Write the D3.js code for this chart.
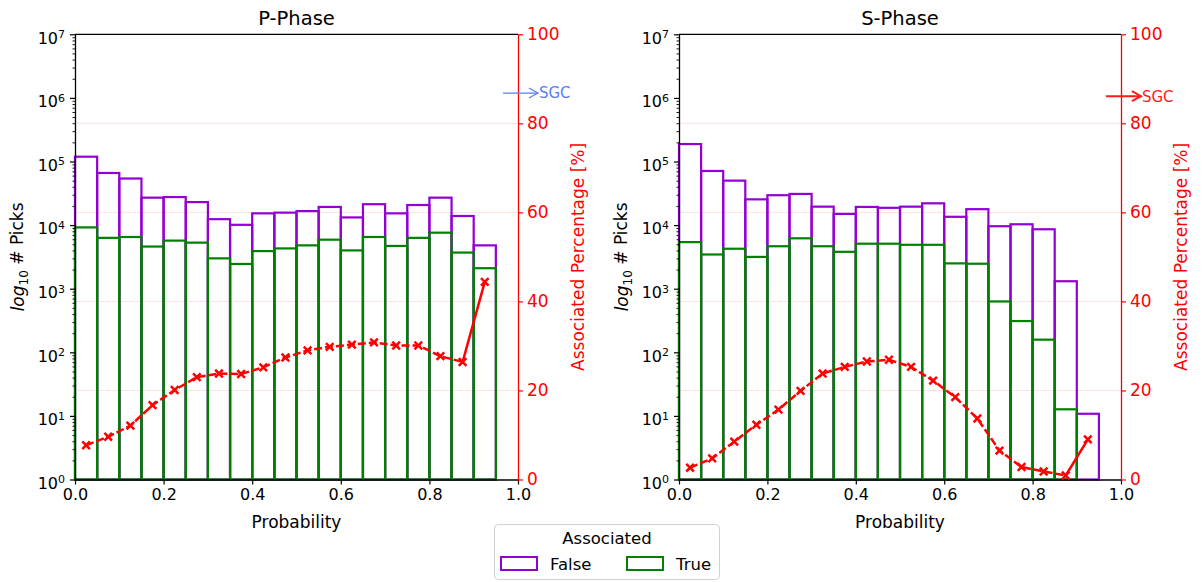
<!DOCTYPE html>
<html>
<head>
<meta charset="utf-8">
<script src="https://cdn.jsdelivr.net/npm/d3@7"></script>
<style>
  html, body { margin: 0; padding: 0; background: #fff; }
  svg { display: block; font-family: "DejaVu Sans", sans-serif; }
</style>
</head>
<body>
<svg id="chart" width="1204" height="582"></svg>
<script>
// ---------------- data ----------------
const binStart = [0.00,0.05,0.10,0.15,0.20,0.25,0.30,0.35,0.40,0.45,0.50,0.55,0.60,0.65,0.70,0.75,0.80,0.85,0.90];
const binWidth = 0.05;
const binCenter = [0.025,0.075,0.125,0.175,0.225,0.275,0.325,0.375,0.425,0.475,0.525,0.575,0.625,0.675,0.725,0.775,0.825,0.875,0.925];

const pFalse = [119000,66000,54000,27000,27600,23000,12400,10100,15300,15700,16600,19300,13200,21300,15300,20700,27000,13900,4800];
const pTrue  = [9200,6300,6500,4600,5700,5300,3000,2450,3900,4300,4800,5900,4000,6500,4700,6300,7600,3700,2100];
const pPct   = [7.7,9.6,12.1,16.7,20.1,23.0,23.8,23.7,25.2,27.4,29.0,29.8,30.3,30.8,30.1,30.1,27.7,26.4,44.4];

const sFalse = [188000,71000,50000,25400,29500,30900,19500,15000,19300,18700,19500,22000,13500,17800,9600,10300,8600,1310,10.8];
const sTrue  = [5400,3450,4250,3160,4650,6200,4650,3800,5100,5100,4900,4900,2500,2470,630,310,158,12.7,1];
const sPct   = [2.65,4.75,8.5,12.3,15.7,19.9,23.8,25.3,26.5,26.9,25.3,22.2,18.5,13.7,6.5,2.8,1.8,0.9,9.0];

const panelTitles = ["P-Phase", "S-Phase"];
const sgcValues = [86.8, 86.1];
const sgcColors = ["#5a7cf5", "#ff1a1a"];
const sgcWidths = [1.2, 2];

const xTicks = [0, 0.2, 0.4, 0.6, 0.8, 1.0];
const yLogTicks = [1, 10, 100, 1000, 10000, 100000, 1000000, 10000000];
const yPctTicks = [0, 20, 40, 60, 80, 100];
const legendTitle = "Associated";
const legendLabels = ["False", "True"];

const colFalse = "#9400d3";
const colTrue = "#008000";
const colRed = "#ff0000";

// --------------- layout ---------------
const svg = d3.select("#chart");
const panels = [
  {x0: 75, x1: 518, falseV: pFalse, trueV: pTrue, pct: pPct},
  {x0: 679, x1: 1121, falseV: sFalse, trueV: sTrue, pct: sPct}
];
const yTop = 34.3, yBot = 479.5;

panels.forEach((p, pi) => {
  const x = d3.scaleLinear().domain([0, 1]).range([p.x0, p.x1]);
  const yL = d3.scaleLog().domain([1, 1e7]).range([yBot, yTop]);
  const yP = d3.scaleLinear().domain([0, 100]).range([yBot, yTop]);
  const g = svg.append("g");

  // faint grid from right axis
  g.append("g").selectAll("line").data([20, 40, 60, 80]).join("line")
    .attr("x1", p.x0).attr("x2", p.x1)
    .attr("y1", d => yP(d)).attr("y2", d => yP(d))
    .attr("stroke", "rgba(255,0,0,0.12)").attr("stroke-width", 1);

  // bars
  const drawBars = (vals, color) => {
    g.append("g").selectAll("rect").data(vals).join("rect")
      .attr("x", (d, i) => x(binStart[i]))
      .attr("width", (d, i) => x(binStart[i] + binWidth) - x(binStart[i]))
      .attr("y", d => yL(d))
      .attr("height", d => yBot - yL(d))
      .attr("fill", "none")
      .attr("stroke", color)
      .attr("stroke-width", 2.2);
  };
  drawBars(p.falseV, colFalse);
  drawBars(p.trueV, colTrue);

  // spines
  g.append("line").attr("x1", p.x0).attr("x2", p.x1).attr("y1", yTop).attr("y2", yTop)
    .attr("stroke", "#000").attr("stroke-width", 1.3);

  // left axis (log)
  const minorVals = [];
  yLogTicks.slice(0, -1).forEach(t => { for (let k = 2; k <= 9; k++) minorVals.push(t * k); });
  const minorAx = g.append("g").attr("transform", `translate(${p.x0},0)`)
    .call(d3.axisLeft(yL).tickValues(minorVals).tickSize(2.5).tickFormat("").tickSizeOuter(0));
  minorAx.select(".domain").remove();
  minorAx.selectAll("line").attr("stroke", "#000").attr("stroke-width", 0.9);

  const leftAx = g.append("g").attr("transform", `translate(${p.x0},0)`)
    .call(d3.axisLeft(yL).tickValues(yLogTicks).tickSize(5).tickSizeOuter(0).tickPadding(5));
  leftAx.select(".domain").attr("stroke", "#000").attr("stroke-width", 1.3);
  leftAx.selectAll("line").attr("stroke", "#000").attr("stroke-width", 1.2);
  leftAx.selectAll("text").attr("font-size", 16).attr("fill", "#000").attr("font-family", "DejaVu Sans")
    .each(function(d) {
      const e = Math.round(Math.log10(d));
      const t = d3.select(this).text(null);
      t.append("tspan").text("10");
      t.append("tspan").attr("font-size", 11).attr("dy", "-0.5em").text(e);
    });
  leftAx.selectAll("text").attr("dy", "0.55em");

  // bottom axis
  const botAx = g.append("g").attr("transform", `translate(0,${yBot})`)
    .call(d3.axisBottom(x).tickValues(xTicks).tickFormat(d3.format(".1f")).tickSize(5).tickSizeOuter(0).tickPadding(4));
  botAx.select(".domain").attr("stroke", "#000").attr("stroke-width", 1.3);
  botAx.selectAll("line").attr("stroke", "#000").attr("stroke-width", 1.2);
  botAx.selectAll("text").attr("font-size", 16).attr("fill", "#000").attr("font-family", "DejaVu Sans");

  // right axis (percentage)
  const rightAx = g.append("g").attr("transform", `translate(${p.x1},0)`)
    .call(d3.axisRight(yP).tickValues(yPctTicks).tickSize(5).tickSizeOuter(0).tickPadding(4));
  rightAx.select(".domain").attr("stroke", colRed).attr("stroke-width", 1.3);
  rightAx.selectAll("line").attr("stroke", colRed).attr("stroke-width", 1.2);
  rightAx.selectAll("text").attr("font-size", 17).attr("fill", colRed).attr("font-family", "DejaVu Sans");

  // percentage line
  const pts = p.pct.map((v, i) => [x(binCenter[i]), yP(v)]);
  const line = d3.line();
  g.append("path").attr("d", line(pts.slice(0, pts.length - 1)))
    .attr("fill", "none").attr("stroke", colRed).attr("stroke-width", 2.5)
    .attr("stroke-dasharray", "8,3");
  g.append("path").attr("d", line(pts.slice(pts.length - 2)))
    .attr("fill", "none").attr("stroke", colRed).attr("stroke-width", 2.5);
  const ms = 3.8;
  g.append("g").selectAll("path").data(pts).join("path")
    .attr("d", d => `M${d[0]-ms},${d[1]-ms}L${d[0]+ms},${d[1]+ms}M${d[0]-ms},${d[1]+ms}L${d[0]+ms},${d[1]-ms}`)
    .attr("stroke", colRed).attr("stroke-width", 2.5).attr("fill", "none");

  // SGC annotation
  const ay = yP(sgcValues[pi]);
  const ax0 = x(0.966), ax1 = x(1.045);
  const ag = g.append("g").attr("stroke", sgcColors[pi]).attr("stroke-width", sgcWidths[pi]).attr("fill", "none");
  ag.append("line").attr("x1", ax0).attr("x2", ax1).attr("y1", ay).attr("y2", ay);
  ag.append("path").attr("d", `M${ax1-9},${ay-5}L${ax1},${ay}L${ax1-9},${ay+5}`);
  g.append("text").attr("x", ax1 + 1).attr("y", ay).attr("dy", "0.36em")
    .attr("font-size", pi === 0 ? 15 : 15).attr("fill", sgcColors[pi]).text("SGC");

  // title
  g.append("text").attr("x", (p.x0 + p.x1) / 2).attr("y", 25)
    .attr("text-anchor", "middle").attr("font-size", 19.5).attr("fill", "#000").text(panelTitles[pi]);

  // x label
  g.append("text").attr("x", (p.x0 + p.x1) / 2).attr("y", 528)
    .attr("text-anchor", "middle").attr("font-size", 17).attr("fill", "#000").text("Probability");

  // left y label
  const ly = g.append("text")
    .attr("transform", `translate(${p.x0 - 51},${(yTop + yBot) / 2}) rotate(-90)`)
    .attr("text-anchor", "middle").attr("font-size", 17).attr("fill", "#000");
  ly.append("tspan").attr("font-style", "italic").text("log");
  ly.append("tspan").attr("font-size", 12).attr("dy", "0.3em").text("10");
  ly.append("tspan").attr("dy", "-0.3em").text(" # Picks");

  // right y label
  g.append("text")
    .attr("transform", `translate(${p.x1 + 66},${(yTop + yBot) / 2}) rotate(-90)`)
    .attr("text-anchor", "middle").attr("font-size", 17).attr("fill", colRed)
    .text("Associated Percentage [%]");
});

// legend
const lg = svg.append("g");
lg.append("rect").attr("x", 494.5).attr("y", 524.5).attr("width", 225).attr("height", 55)
  .attr("rx", 4).attr("fill", "#fff").attr("stroke", "#d0d0d0").attr("stroke-width", 1);
lg.append("text").attr("x", 607).attr("y", 544).attr("text-anchor", "middle")
  .attr("font-size", 16.5).attr("fill", "#000").text(legendTitle);
const legX = [501, 627];
const legCols = [colFalse, colTrue];
legendLabels.forEach((lab, i) => {
  lg.append("rect").attr("x", legX[i]).attr("y", 557).attr("width", 36).attr("height", 13)
    .attr("fill", "none").attr("stroke", legCols[i]).attr("stroke-width", 2);
  lg.append("text").attr("x", legX[i] + 49).attr("y", 569.5)
    .attr("font-size", 16.5).attr("fill", "#000").text(lab);
});
</script>
</body>
</html>
